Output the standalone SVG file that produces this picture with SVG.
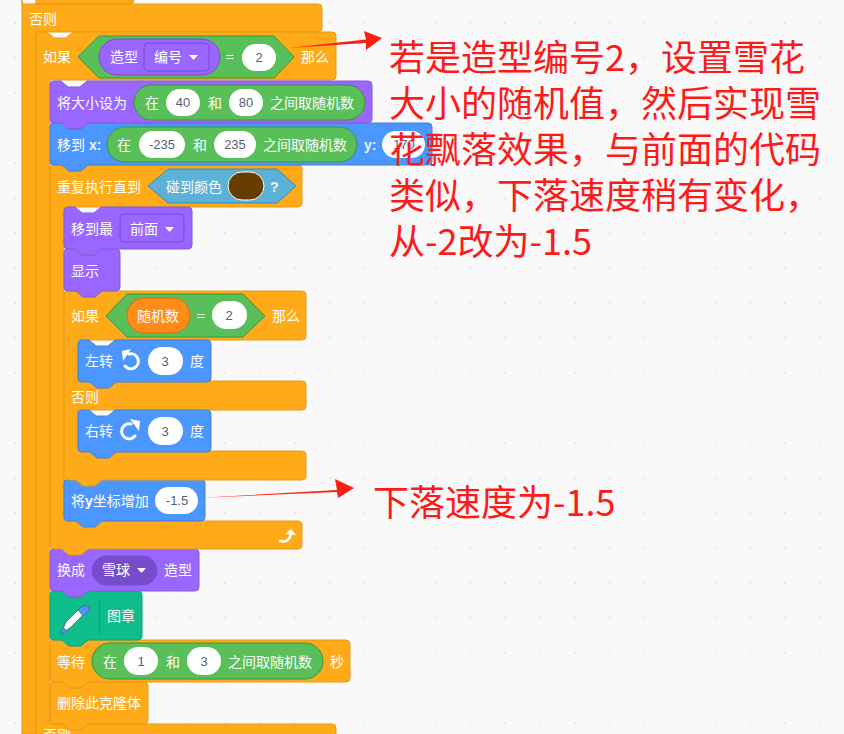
<svg xmlns="http://www.w3.org/2000/svg" width="844" height="734" viewBox="0 0 844 734">
<style>
text{font-family:"Noto Sans CJK SC","Noto Sans",sans-serif;font-size:14px;fill:#fff}
.o{fill:#ffab19;stroke:#e39a17}
.p{fill:#9966ff;stroke:#855cd6}
.b{fill:#4c97ff;stroke:#4280d7}
.t{fill:#0fbd8c;stroke:#0da57a}
.g{fill:#59c059;stroke:#389438}
.s{fill:#5cb1d6;stroke:#2e8eb8}
.d{fill:#9966ff;stroke:#774dcb}
.w{fill:#fff}
.n{font-family:"Liberation Sans",sans-serif;font-size:13px;fill:#575e75;text-anchor:middle}
.bd{font-family:"Liberation Sans",sans-serif;font-weight:bold;font-size:14px;fill:#fff;opacity:.9}
.r{font-size:36px;fill:#ff1a1a}
.i{fill:none;stroke:#fff;stroke-width:3;stroke-linecap:round;stroke-linejoin:round}
</style>
<defs>
<pattern id="dots" x="0" y="0" width="35" height="35" patternUnits="userSpaceOnUse"><circle cx="15" cy="23" r="1" fill="#e4e4e4"/></pattern>
<path id="tri" d="M0,0h9l-3.6,4q-.9,1-1.8,0z" fill="#fff"/>
</defs>
<rect width="844" height="734" fill="#f9f9f9"/>
<rect width="844" height="734" fill="url(#dots)"/>

<g id="block-else-outer"><path class="o" d="M22,-10V734H36V32H318a4,4 0 0 0 4,-4V8a4,4 0 0 0 -4,-4H22z"/><text x="29" y="24">否则</text></g>
<g id="block-top-fragment"><path class="o" d="M36,-6V4H130a4,4 0 0 0 4,-4V-6z"/></g>

<g id="block-if-main"><path class="o" d="M36,36a4,4 0 0 1 4,-4h7l7,6h12l7,-6H332a4,4 0 0 1 4,4V76a4,4 0 0 1 -4,4H50V724H332a4,4 0 0 1 4,4V740H36z"/>
<text x="43" y="62">如果</text><text x="301" y="62">那么</text><text x="43" y="740">否则</text>
<path class="g" d="M78,57L99,36H274L294,57L274,78H99z"/>
<rect class="p" style="stroke:#774dcb" x="99" y="39" width="121" height="36" rx="18"/>
<text x="110" y="62">造型</text>
<rect class="d" x="144" y="43" width="65" height="28" rx="4"/><text x="154" y="62">编号</text><use href="#tri" x="189" y="55"/>
<text x="226" y="62">=</text><rect class="w" x="242" y="44" width="34" height="27" rx="13.5"/><text class="n" x="259" y="62">2</text></g>

<g id="block-delete"><path class="o" d="M50,686a4,4 0 0 1 4,-4h7l7,6h12l7,-6H144a4,4 0 0 1 4,4V720a4,4 0 0 1 -4,4H88l-7,6H69l-7,-6H54a4,4 0 0 1 -4,-4z"/><text x="57" y="708">删除此克隆体</text></g>

<g id="block-wait"><path class="o" d="M50,644a4,4 0 0 1 4,-4h7l7,6h12l7,-6H346a4,4 0 0 1 4,4V678a4,4 0 0 1 -4,4H88l-7,6H69l-7,-6H54a4,4 0 0 1 -4,-4z"/>
<text x="57" y="667">等待</text><text x="330" y="667">秒</text>
<rect class="g" x="92" y="643" width="231" height="36" rx="18"/><text x="103" y="667">在</text>
<rect class="w" x="124" y="647" width="34" height="28" rx="14"/><text class="n" x="141" y="666">1</text><text x="166" y="667">和</text>
<rect class="w" x="187" y="647" width="34" height="28" rx="14"/><text class="n" x="204" y="666">3</text><text x="228" y="667">之间取随机数</text></g>

<g id="block-stamp"><path class="t" d="M50,595a4,4 0 0 1 4,-4h7l7,6h12l7,-6H138a4,4 0 0 1 4,4V636a4,4 0 0 1 -4,4H88l-7,6H69l-7,-6H54a4,4 0 0 1 -4,-4z"/>
<path d="M99.5,598V635" stroke="#0da57a" fill="none"/>
<path d="M61,634L66,622L81,607L86,612L71,627z" fill="#fff" stroke="#575e75" stroke-width=".8"/>
<path d="M78,610L83,606Q87,604 89,607Q90,610 87,613L83,616z" fill="#4c97ff" stroke="#575e75" stroke-width=".8"/>
<path d="M61,634L63,627L67,631z" fill="#4c97ff" stroke="#575e75" stroke-width=".6"/>
<text x="107" y="621">图章</text></g>

<g id="block-costume"><path class="p" d="M50,553a4,4 0 0 1 4,-4h7l7,6h12l7,-6H195a4,4 0 0 1 4,4V587a4,4 0 0 1 -4,4H88l-7,6H69l-7,-6H54a4,4 0 0 1 -4,-4z"/>
<text x="57" y="575">换成</text><rect x="92" y="556" width="65" height="29" rx="14.5" fill="#774dcb" stroke="#774dcb"/><text x="102" y="575">雪球</text><use href="#tri" x="137" y="568"/><text x="164" y="575">造型</text></g>

<g id="block-repeat-until"><path class="o" d="M50,169a4,4 0 0 1 4,-4h7l7,6h12l7,-6H298a4,4 0 0 1 4,4V203a4,4 0 0 1 -4,4H64V521H298a4,4 0 0 1 4,4V545a4,4 0 0 1 -4,4H88l-7,6H69l-7,-6H54a4,4 0 0 1 -4,-4z"/>
<text x="57" y="192">重复执行直到</text>
<path class="s" d="M148,186L168,169H277L296,186L277,203H168z"/>
<text x="166" y="192">碰到颜色</text><rect x="228" y="172" width="36" height="28" rx="14" fill="#663c00" stroke="#fff"/><text class="bd" x="270" y="192">?</text>
<path class="i" style="stroke-width:2.6" d="M280,541Q289,543 291,534"/><path d="M285,534L291,529L296,535z" fill="#fff"/></g>

<g id="block-change-y"><path class="b" d="M64,483a4,4 0 0 1 4,-4h7l7,6h12l7,-6H201a4,4 0 0 1 4,4V517a4,4 0 0 1 -4,4H102l-7,6H83l-7,-6H68a4,4 0 0 1 -4,-4z"/>
<text x="71" y="506">将<tspan font-weight="bold" font-family="Liberation Sans">y</tspan>坐标增加</text><rect class="w" x="155" y="487" width="43" height="27" rx="13.5"/><text class="n" x="177" y="505">-1.5</text></g>

<g id="block-if-inner"><path class="o" d="M64,295a4,4 0 0 1 4,-4h7l7,6h12l7,-6H302a4,4 0 0 1 4,4V336a4,4 0 0 1 -4,4H78V381H302a4,4 0 0 1 4,4V406a4,4 0 0 1 -4,4H78V451H302a4,4 0 0 1 4,4V476a4,4 0 0 1 -4,4H102l-7,6H83l-7,-6H68a4,4 0 0 1 -4,-4z"/>
<text x="71" y="321">如果</text><text x="272" y="321">那么</text><text x="71" y="402">否则</text>
<path class="g" d="M106,316L127,294H243L265,316L243,337H127z"/>
<rect x="127" y="298" width="63" height="35" rx="17.5" fill="#ff8c1a" stroke="#db6e00"/><text x="137" y="321">随机数</text>
<text x="197" y="321">=</text><rect class="w" x="212" y="301" width="35" height="28" rx="14"/><text class="n" x="229" y="320">2</text></g>

<g id="block-turn-right"><path class="b" d="M78,414a4,4 0 0 1 4,-4h7l7,6h12l7,-6H207a4,4 0 0 1 4,4V448a4,4 0 0 1 -4,4H116l-7,6H97l-7,-6H82a4,4 0 0 1 -4,-4z"/>
<text x="85" y="436">右转</text>
<path class="i" d="M131,424A7.500,7.500 0 1 0 135,436"/><path d="M130,419L140,421L139,431z" fill="#fff"/>
<rect class="w" x="148" y="417" width="35" height="28" rx="14"/><text class="n" x="165" y="436">3</text><text x="190" y="436">度</text></g>

<g id="block-turn-left"><path class="b" d="M78,344a4,4 0 0 1 4,-4h7l7,6h12l7,-6H207a4,4 0 0 1 4,4V378a4,4 0 0 1 -4,4H116l-7,6H97l-7,-6H82a4,4 0 0 1 -4,-4z"/>
<text x="85" y="366">左转</text>
<path class="i" d="M129,354A7.500,7.500 0 1 1 125,366"/><path d="M131,349L122,351L123,361z" fill="#fff"/>
<rect class="w" x="148" y="347" width="35" height="28" rx="14"/><text class="n" x="165" y="366">3</text><text x="190" y="366">度</text></g>

<g id="block-show"><path class="p" d="M64,253a4,4 0 0 1 4,-4h7l7,6h12l7,-6H116a4,4 0 0 1 4,4V287a4,4 0 0 1 -4,4H102l-7,6H83l-7,-6H68a4,4 0 0 1 -4,-4z"/><text x="71" y="276">显示</text></g>

<g id="block-front"><path class="p" d="M64,211a4,4 0 0 1 4,-4h7l7,6h12l7,-6H188a4,4 0 0 1 4,4V245a4,4 0 0 1 -4,4H102l-7,6H83l-7,-6H68a4,4 0 0 1 -4,-4z"/>
<text x="71" y="234">移到最</text><rect class="d" x="120" y="214" width="64" height="28" rx="4"/><text x="130" y="234">前面</text><use href="#tri" x="165" y="227"/></g>

<g id="block-goto"><path class="b" d="M50,127a4,4 0 0 1 4,-4h7l7,6h12l7,-6H428a4,4 0 0 1 4,4V161a4,4 0 0 1 -4,4H88l-7,6H69l-7,-6H54a4,4 0 0 1 -4,-4z"/>
<text x="57" y="150">移到</text><text class="bd" x="89" y="150">x:</text>
<rect class="g" x="107" y="127" width="250" height="35" rx="17.500"/><text x="117" y="150">在</text>
<rect class="w" x="139" y="131" width="46" height="27" rx="13.5"/><text class="n" x="162" y="149">-235</text><text x="193" y="150">和</text>
<rect class="w" x="214" y="131" width="42" height="27" rx="13.5"/><text class="n" x="235" y="149">235</text><text x="263" y="150">之间取随机数</text>
<text class="bd" x="364" y="150">y:</text><rect class="w" x="382" y="131" width="43" height="27" rx="13.5"/><text class="n" x="404" y="149">170</text></g>

<g id="block-size"><path class="p" d="M50,85a4,4 0 0 1 4,-4h7l7,6h12l7,-6H368a4,4 0 0 1 4,4V119a4,4 0 0 1 -4,4H88l-7,6H69l-7,-6H54a4,4 0 0 1 -4,-4z"/>
<text x="57" y="108">将大小设为</text>
<rect class="g" x="134" y="85" width="231" height="35" rx="17.5"/><text x="145" y="108">在</text>
<rect class="w" x="166" y="89" width="34" height="27" rx="13.5"/><text class="n" x="183" y="107">40</text><text x="208" y="108">和</text>
<rect class="w" x="229" y="89" width="34" height="27" rx="13.5"/><text class="n" x="246" y="107">80</text><text x="270" y="108">之间取随机数</text></g>

<g id="connectors">
<path d="M288,48L366,39.500L364,31L382,38L366,50L366,43z" fill="#ff1e14"/>
<path d="M197,498L337,490L335,479L354,488L338,498L337,492z" fill="#ff1e14"/>
</g>

<g id="note-main">
<text class="r" x="389" y="71">若是造型编号2，设置雪花</text>
<text class="r" x="389" y="117">大小的随机值，然后实现雪</text>
<text class="r" x="389" y="163">花飘落效果，与前面的代码</text>
<text class="r" x="389" y="209">类似，下落速度稍有变化，</text>
<text class="r" x="389" y="255">从-2改为-1.5</text>
</g>
<g id="note-speed"><text class="r" x="373" y="516">下落速度为-1.5</text></g>
</svg>
